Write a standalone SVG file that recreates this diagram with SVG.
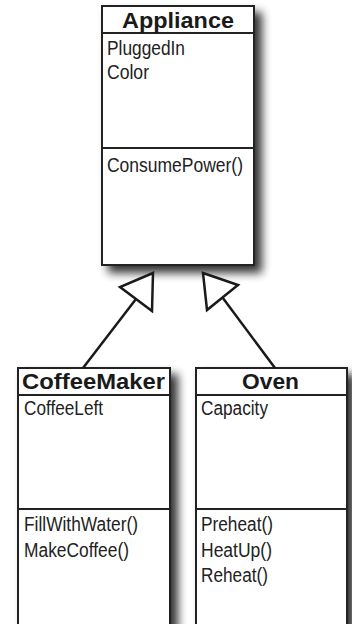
<svg xmlns="http://www.w3.org/2000/svg" width="352" height="624" viewBox="0 0 352 624">
<defs>
<filter id="sh" x="-20%" y="-20%" width="150%" height="150%">
<feGaussianBlur in="SourceAlpha" stdDeviation="5"/>
<feOffset dx="7" dy="7" result="b"/>
<feComponentTransfer><feFuncA type="linear" slope="0.8"/></feComponentTransfer>
<feMerge><feMergeNode/><feMergeNode in="SourceGraphic"/></feMerge>
</filter>
</defs>
<style>
.box{fill:#fff;stroke:#222;stroke-width:2}
.sep{stroke:#222;stroke-width:2}
.t{font-family:"Liberation Sans",Arial,sans-serif;font-weight:bold;font-size:21.5px;fill:#1a1a1a}
.a{font-family:"Liberation Sans",Arial,sans-serif;font-size:19.5px;fill:#222}
.ln{stroke:#1a1a1a;stroke-width:2.5;fill:none}
.tri{fill:#fff;stroke:#1a1a1a;stroke-width:2.5;stroke-linejoin:miter}
</style>
<rect width="352" height="624" fill="#fff"/>
<g id="Appliance">
<rect class="box" x="102" y="6" width="152" height="259" filter="url(#sh)"/>
<line class="sep" x1="102" y1="33" x2="254" y2="33"/>
<line class="sep" x1="102" y1="148" x2="254" y2="148"/>
<text class="t" x="122" y="28" textLength="112" lengthAdjust="spacingAndGlyphs">Appliance</text>
<text class="a" x="107" y="55" textLength="78" lengthAdjust="spacingAndGlyphs">PluggedIn</text>
<text class="a" x="107" y="79" textLength="42" lengthAdjust="spacingAndGlyphs">Color</text>
<text class="a" x="107" y="172" textLength="136" lengthAdjust="spacingAndGlyphs">ConsumePower()</text>
</g>
<g id="CoffeeMaker">
<rect class="box" x="18" y="368" width="152" height="270" filter="url(#sh)"/>
<line class="sep" x1="18" y1="395" x2="170" y2="395"/>
<line class="sep" x1="18" y1="509" x2="170" y2="509"/>
<text class="t" x="22" y="389" textLength="143" lengthAdjust="spacingAndGlyphs">CoffeeMaker</text>
<text class="a" x="24" y="415" textLength="79" lengthAdjust="spacingAndGlyphs">CoffeeLeft</text>
<text class="a" x="24" y="531" textLength="114" lengthAdjust="spacingAndGlyphs">FillWithWater()</text>
<text class="a" x="24" y="557" textLength="105" lengthAdjust="spacingAndGlyphs">MakeCoffee()</text>
</g>
<g id="Oven">
<rect class="box" x="196" y="368" width="151" height="270" filter="url(#sh)"/>
<line class="sep" x1="196" y1="395" x2="347" y2="395"/>
<line class="sep" x1="196" y1="509" x2="347" y2="509"/>
<text class="t" x="242" y="389" textLength="57" lengthAdjust="spacingAndGlyphs">Oven</text>
<text class="a" x="201" y="415" textLength="67" lengthAdjust="spacingAndGlyphs">Capacity</text>
<text class="a" x="201" y="531" textLength="72" lengthAdjust="spacingAndGlyphs">Preheat()</text>
<text class="a" x="201" y="557" textLength="71" lengthAdjust="spacingAndGlyphs">HeatUp()</text>
<text class="a" x="201" y="582" textLength="67" lengthAdjust="spacingAndGlyphs">Reheat()</text>
</g>
<g id="connectors">
<line class="ln" x1="83" y1="368" x2="136" y2="299"/>
<polygon class="tri" points="153,273 120,287 152,311"/>
<line class="ln" x1="275" y1="368" x2="222.5" y2="297.5"/>
<polygon class="tri" points="203,273 238,285 207,310"/>
</g>
</svg>
